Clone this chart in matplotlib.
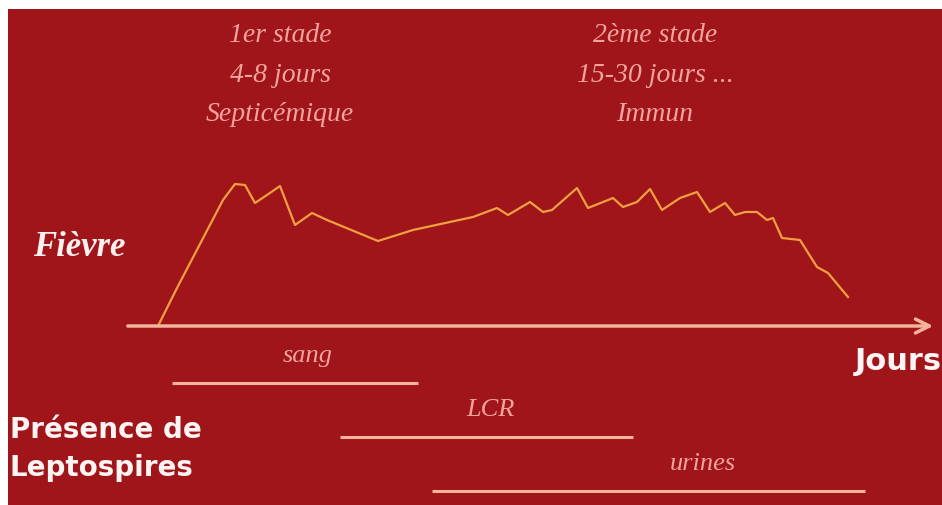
import matplotlib
matplotlib.use("Agg")
import matplotlib.pyplot as plt

# Courbe de fièvre (x en jours, y en hauteur au-dessus de l'axe)
jours = [158, 177, 223, 235, 245, 255, 267, 280, 295, 312, 327, 378, 413, 473,
         497, 508, 530, 543, 552, 577, 588, 613, 623, 637, 650, 662, 680, 697,
         710, 725, 735, 745, 757, 767, 773, 782, 800, 817, 828, 848]
fievre = [0, 38, 126, 142, 141, 123, 131, 140, 101, 113, 106, 85, 96, 109,
          118, 111, 124, 114, 116, 138, 118, 128, 119, 124, 137, 116, 128, 134,
          114, 123, 111, 114, 114, 106, 108, 88, 86, 59, 53, 29]

# Périodes de présence des leptospires
milieux = ["sang", "LCR", "urines"]
debut = [172, 340, 432]
fin = [418, 633, 865]
niveau = [-57, -111, -165]
milieux_x = [308, 490, 703]

stades = ["1er stade\n4-8 jours\nSepticémique", "2ème stade\n15-30 jours ...\nImmun"]
stades_x = [280, 655]

fond = "#a01519"
rose = "#f2a49c"
orange = "#f0a040"
creme = "#f2b49a"

fig = plt.figure(figsize=(9.42, 5.05), dpi=100, facecolor="white")
ax = fig.add_axes([8 / 942, 0, 934 / 942, 496 / 505])
ax.set_facecolor(fond)
ax.set_xlim(8, 942)
ax.set_ylim(-179, 317)
for s in ax.spines.values():
    s.set_visible(False)
ax.set_xticks([])
ax.set_yticks([])

# axe des jours avec flèche
ax.annotate("", xy=(936, 0), xytext=(125, 0),
            arrowprops=dict(arrowstyle="->", color=creme, lw=2.5,
                            mutation_scale=25))
ax.plot(jours, fievre, color=orange, lw=1.6, solid_joinstyle="round")

for nom, a, b, y, xt in zip(milieux, debut, fin, niveau, milieux_x):
    ax.plot([a, b], [y, y], color=creme, lw=2.2, solid_capstyle="butt")
    ax.text(xt, y + 27, nom, color=rose, fontsize=19, fontstyle="italic",
            family="Liberation Serif", ha="center", va="center")

for t, x in zip(stades, stades_x):
    ax.text(x, 251, t, color=rose, fontsize=20, fontstyle="italic",
            family="Liberation Serif", ha="center", va="center",
            linespacing=1.75)

ax.text(33, 78, "Fièvre", color="#fff0f0", fontsize=25, fontstyle="italic",
        fontweight="bold", family="Liberation Serif", ha="left", va="center")
ax.text(942, -36, "Jours", color="#fff4f4", fontsize=22, fontweight="bold",
        family="DejaVu Sans", ha="right", va="center")
ax.text(10, -104, "Présence de", color="#fff4f4", fontsize=20,
        fontweight="bold", family="DejaVu Sans", ha="left", va="center")
ax.text(10, -142, "Leptospires", color="#fff4f4", fontsize=20,
        fontweight="bold", family="DejaVu Sans", ha="left", va="center")

fig.savefig("out.png", dpi=100, facecolor="white")
